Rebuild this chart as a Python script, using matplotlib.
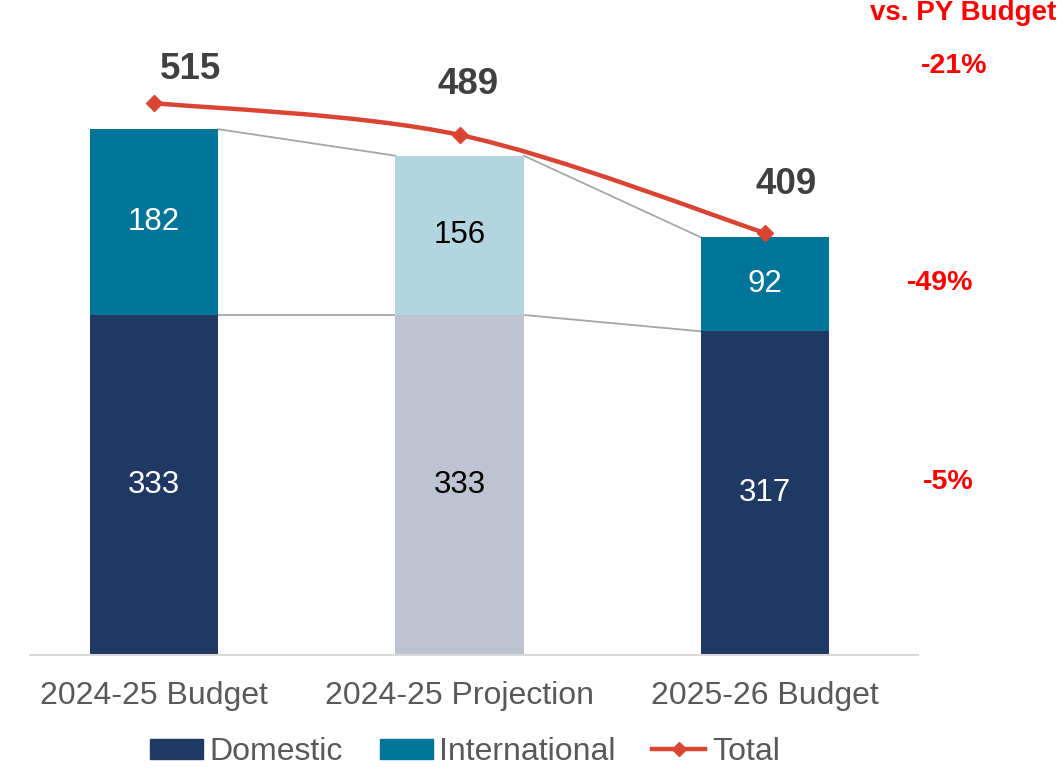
import numpy as np
import matplotlib.pyplot as plt
import matplotlib.transforms as mtrans
from matplotlib.path import Path
from matplotlib.patches import PathPatch, Patch
from matplotlib.lines import Line2D

plt.rcParams['font.family'] = ['Liberation Sans', 'DejaVu Sans']

categories = ['2024-25 Budget', '2024-25 Projection', '2025-26 Budget']
domestic = [333, 333, 317]
international = [182, 156, 92]
total = [515, 489, 409]
changes = ['-21%', '-49%', '-5%']          # total, international, domestic
change_y = [577, 364, 169]                 # where each change label sits (bar axis units)

dom_colors = ['#203864', '#BDC3D1', '#203864']
int_colors = ['#00759A', '#B2D5DF', '#00759A']
dom_text = ['white', 'black', 'white']
int_text = ['white', 'black', 'white']
line_color = '#DA4432'
grey = '#595959'

fig = plt.figure(figsize=(10.59, 7.70), dpi=100)
ax = fig.add_axes([30/1059, 115/770, 888/1059, 655/770])
x = np.arange(len(categories))
w = 0.42

ax.bar(x, domestic, w, color=dom_colors, zorder=2)
ax.bar(x, international, w, bottom=domestic, color=int_colors, zorder=2)

for i in range(len(x)):
    ax.text(x[i], domestic[i] / 2, str(domestic[i]), ha='center', va='center',
            fontsize=22.5, color=dom_text[i])
    ax.text(x[i], domestic[i] + international[i] / 2, str(international[i]),
            ha='center', va='center', fontsize=22.5, color=int_text[i])

# connector lines between bars
tops = [d + t for d, t in zip(domestic, international)]
for i in range(len(x) - 1):
    ax.plot([x[i] + w/2, x[i+1] - w/2], [tops[i], tops[i+1]], color='#A6A6A6', lw=1.3, zorder=1)
    ax.plot([x[i] + w/2, x[i+1] - w/2], [domestic[i], domestic[i+1]], color='#A6A6A6', lw=1.3, zorder=1)

ax.set_xlim(-0.406, 2.50)
ax.set_ylim(0, 641.5)
ax.set_xticks(x)
ax.set_xticklabels(categories, fontsize=23, color=grey)
ax.tick_params(axis='x', length=0, pad=19)
ax.set_yticks([])
for s in ['top', 'right', 'left']:
    ax.spines[s].set_visible(False)
ax.spines['bottom'].set_color('#D9D9D9')
ax.spines['bottom'].set_linewidth(1.5)

# total line on its own scale, smoothed
ax2 = ax.twinx()
ax2.set_ylim(65, 599)
ax2.axis('off')
p = np.column_stack([x, total]).astype(float)
c1 = p[0] + (p[1] - p[0]) / 6
c2 = p[1] - (p[2] - p[0]) / 6
c3 = p[1] + (p[2] - p[0]) / 6
c4 = p[2] - (p[2] - p[1]) / 6
verts = [p[0], c1, c2, p[1], c3, c4, p[2]]
codes = [Path.MOVETO] + [Path.CURVE4] * 6
ax2.add_patch(PathPatch(Path(verts, codes), fill=False, edgecolor=line_color, lw=3.2,
                        capstyle='round', zorder=3))
ax2.plot(x, total, linestyle='none', marker='D', ms=8, color=line_color, zorder=4)

offsets = [(26, 24), (6, 36), (15, 35)]
for i in range(len(x)):
    ax2.annotate(str(total[i]), (x[i], total[i]), xytext=offsets[i], textcoords='offset points',
                 ha='center', va='center', fontsize=26.5, fontweight='bold', color='#404040')

# change vs. PY budget
tr = mtrans.blended_transform_factory(fig.transFigure, ax.transData)
for lab, yy, xx in zip(changes, change_y, [954, 940, 948]):
    ax.text(xx/1059, yy, lab, transform=tr, ha='center', va='center', fontsize=20.5,
            fontweight='bold', color='#FF0000', clip_on=False)
fig.text(1056/1059, 1 - 13/770, 'vs. PY Budget', ha='right', va='center', fontsize=20,
         fontweight='bold', color='#FF0000')

handles = [Patch(color='#203864', label='Domestic'),
           Patch(color='#00759A', label='International'),
           Line2D([], [], color=line_color, lw=3.2, marker='D', ms=7, label='Total')]
leg = fig.legend(handles=handles, loc='center', bbox_to_anchor=(465/1059, 1 - 752/770), ncol=3,
                 frameon=False, fontsize=23, handlelength=1.66, handleheight=0.6,
                 handletextpad=0.2, columnspacing=1.15, borderpad=0.2)
for t in leg.get_texts():
    t.set_color(grey)

fig.savefig('out.png', dpi=100)
